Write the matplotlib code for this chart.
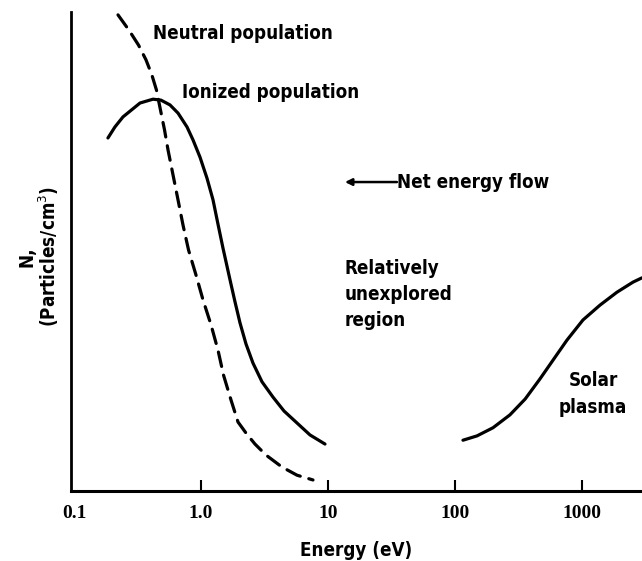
import numpy as np
import matplotlib.pyplot as plt

plt.rcParams['font.family'] = ['DejaVu Sans']
plt.rcParams['font.stretch'] = 'condensed'

# Ionized population (solid)
ion_energy = [0.185, 0.210, 0.243, 0.331, 0.419, 0.484, 0.570, 0.659, 0.776,
              0.865, 0.982, 1.115, 1.243, 1.361, 1.490, 1.692, 1.852, 2.028,
              2.261, 2.567, 3.022, 3.689, 4.504, 5.700, 7.217, 9.47]
ion_density = [73.7, 76.0, 78.1, 81.0, 81.8, 81.6, 80.6, 78.9, 76.0,
               73.3, 69.7, 65.3, 60.8, 55.7, 50.7, 44.1, 39.5, 35.1,
               30.7, 26.7, 22.8, 19.6, 16.7, 14.2, 11.7, 9.8]

# Neutral population (dashed)
neu_energy = [0.222, 0.271, 0.322, 0.369, 0.411, 0.446, 0.480, 0.516, 0.550,
              0.602, 0.659, 0.722, 0.798, 0.913, 1.037, 1.199, 1.361, 1.504,
              1.723, 1.956, 2.261, 2.661, 3.250, 4.343, 5.700, 7.619]
neu_density = [99.4, 96.2, 93.1, 90.0, 86.8, 83.7, 79.5, 75.4, 71.2,
               66.0, 60.8, 55.5, 50.3, 45.1, 39.9, 34.7, 29.4, 24.2,
               19.0, 14.4, 12.1, 9.8, 7.5, 5.0, 3.3, 2.3]

# Solar plasma (solid)
sol_energy = [115.6, 149.0, 199.2, 271.1, 357.0, 467.0, 591.0, 762.0,
              1018, 1386, 1886, 2521, 2968]
sol_density = [10.6, 11.5, 13.2, 15.9, 19.2, 23.4, 27.3, 31.5,
               35.7, 38.8, 41.5, 43.6, 44.5]

tick_values = [0.1, 1.0, 10, 100, 1000]
tick_labels = ['0.1', '1.0', '10', '100', '1000']

fig = plt.figure(figsize=(6.42, 5.61), dpi=100)
ax = fig.add_axes([0.1106, 0.1248, 0.8894, 0.8538])

ax.plot(ion_energy, ion_density, color='black', lw=2.3, solid_capstyle='round',
        solid_joinstyle='round')
ax.plot(neu_energy, neu_density, color='black', lw=2.3, dashes=(4.6, 2.8),
        dash_capstyle='round', dash_joinstyle='round')
ax.plot(sol_energy, sol_density, color='black', lw=2.3, solid_capstyle='round',
        solid_joinstyle='round')

ax.set_xscale('log')
ax.set_xlim(0.0947, 2970)
ax.set_ylim(0, 100)

ax.spines['top'].set_visible(False)
ax.spines['right'].set_visible(False)
ax.spines['left'].set_linewidth(2.0)
ax.spines['bottom'].set_linewidth(2.2)

ax.set_xticks(tick_values)
ax.set_xticklabels(tick_labels, family='Liberation Serif', fontweight='bold',
                   fontsize=14, stretch='normal')
ax.xaxis.set_minor_locator(plt.NullLocator())
ax.tick_params(axis='x', direction='in', length=8, width=1.5, pad=10)
ax.xaxis.get_major_ticks()[0].tick1line.set_visible(False)
ax.set_yticks([])

ax.set_xlabel('Energy (eV)', fontsize=13.5, fontweight='bold', labelpad=14)
ax.set_ylabel('N,\n(Particles/cm$^3$)', fontsize=13.5, fontweight='bold',
              linespacing=1.0)
ax.yaxis.set_label_coords(-0.018, 0.49)

txt = dict(fontsize=13.5, fontweight='bold', color='black')
ax.text(0.419, 95.6, 'Neutral population', ha='left', va='center', **txt)
ax.text(0.709, 83.1, 'Ionized population', ha='left', va='center', **txt)
ax.annotate('', xy=(13.6, 64.5), xytext=(34.9, 64.5),
            arrowprops=dict(arrowstyle='-|>', color='black', lw=1.8,
                            mutation_scale=10, shrinkA=0, shrinkB=0))
ax.text(34.9, 64.5, 'Net energy flow', ha='left', va='center', **txt)
ax.text(13.6, 41.0, 'Relatively\nunexplored\nregion', ha='left', va='center',
        linespacing=1.45, **txt)
ax.text(1221, 20.3, 'Solar\nplasma', ha='center', va='center', linespacing=1.55, **txt)

fig.savefig('out.png', dpi=100)
